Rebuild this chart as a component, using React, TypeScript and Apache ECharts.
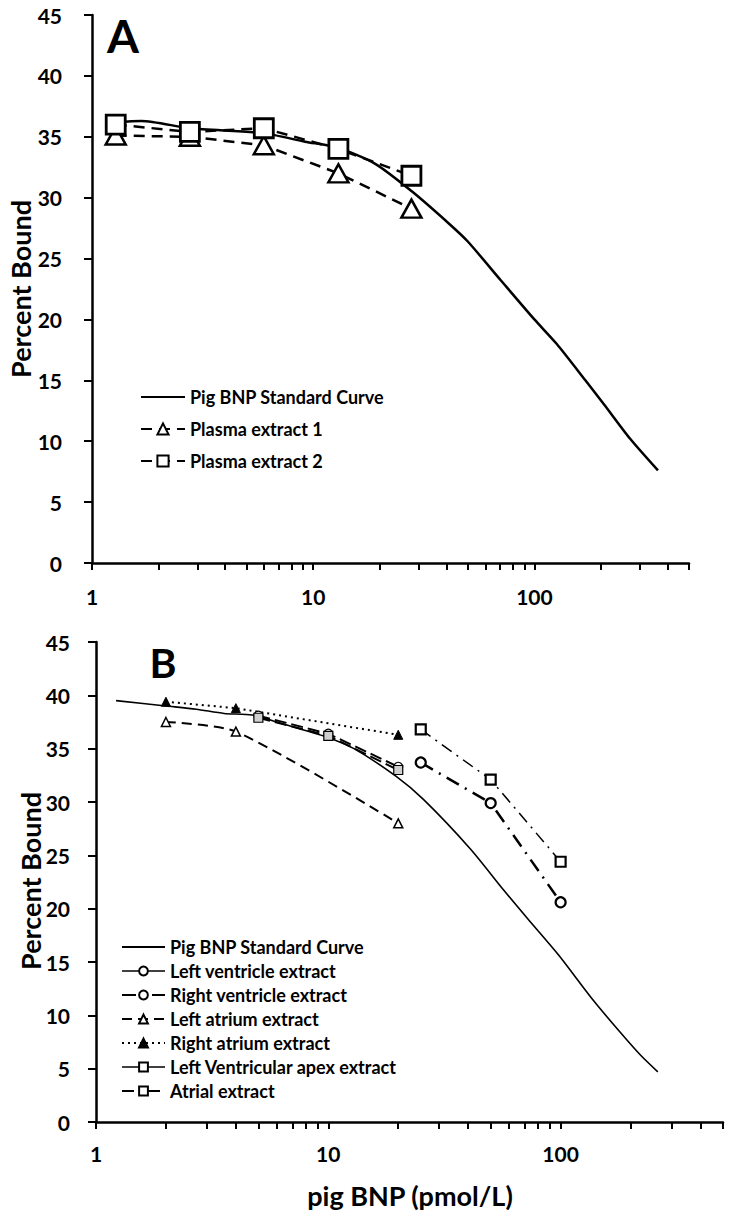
import React, { useEffect, useRef } from "react";
import * as echarts from "echarts";

const FONT = 'Lato, "Noto Sans", sans-serif';

// ---------- axes ----------
const xTickValues = [1, 2, 3, 4, 5, 6, 7, 8, 9, 10, 20, 30, 40, 50, 60, 70, 80, 90, 100, 200, 300, 400, 500];
const xLabelValues = [1, 10, 100];

// ---------- panel A ----------
const stdAX = [1.28, 1.67, 2.78, 5.9, 9.2, 12.9, 19, 28, 41.5, 50, 70.6, 100, 126, 170, 207, 271, 362];
const stdAY = [36.2, 36.3, 35.7, 35.3, 34.6, 34.1, 32.8, 30.5, 27.8, 26.4, 23.2, 20.0, 18.0, 15.0, 13.0, 10.2, 7.6];
const plasmaX = [1.28, 2.77, 5.98, 13.0, 27.8];
const plasma1Y = [35.1, 35.0, 34.3, 32.0, 29.1];
const plasma2Y = [36.0, 35.4, 35.7, 34.0, 31.8];

// ---------- panel B ----------
const stdBX = [1.22, 2.0, 2.7, 3.56, 4.7, 6.2, 9.8, 12.9, 19.6, 25.8, 40.9, 56.6, 74.5, 98.4, 136, 179, 220, 262];
const stdBY = [39.5, 39.0, 38.7, 38.3, 38.15, 37.4, 36.1, 35.0, 32.4, 30.2, 25.6, 21.8, 18.7, 15.6, 11.6, 8.5, 6.3, 4.7];
const lvX = [5, 10, 20];
const lvY = [38.1, 36.4, 33.3];
const lvApexX = [5, 10, 20];
const lvApexY = [37.9, 36.2, 33.0];
const rvX = [25, 50, 100];
const rvY = [33.7, 29.9, 20.6];
const laX = [2, 4, 20];
const laY = [37.5, 36.6, 28.0];
const raX = [2, 4, 20];
const raY = [39.4, 38.8, 36.3];
const atrialX = [25, 50, 100];
const atrialY = [36.8, 32.1, 24.4];

const zip = (xs: number[], ys: number[]) => xs.map((x, i) => [x, ys[i]]);

const axisLineStyle = { color: "#000", width: 2.5 };
const labelStyle = { fontSize: 21, fontWeight: "bold" as const, fontFamily: FONT, color: "#000" };

function makeXAxis(margin: number) {
  return {
    type: "log",
    logBase: 10,
    min: 1,
    max: 500,
    axisLine: { show: true, onZero: false, lineStyle: axisLineStyle },
    axisTick: { show: true, inside: false, length: 7, customValues: xTickValues, lineStyle: { color: "#000", width: 2 } },
    axisLabel: { ...labelStyle, customValues: xLabelValues, margin },
    splitLine: { show: false },
    minorTick: { show: false },
    minorSplitLine: { show: false },
  };
}

function makeYAxis(margin: number) {
  return {
    type: "value",
    min: 0,
    max: 45,
    interval: 5,
    axisLine: { show: true, lineStyle: axisLineStyle },
    axisTick: { show: true, inside: false, length: 8, lineStyle: { color: "#000", width: 2 } },
    axisLabel: { ...labelStyle, margin },
    splitLine: { show: false },
  };
}

function txt(text: string, x: number, y: number, size: number, rotation = 0) {
  return {
    type: "text",
    x,
    y,
    rotation,
    style: {
      text,
      x: 0,
      y: 0,
      fill: "#000",
      fontSize: size,
      fontWeight: "bold",
      fontFamily: FONT,
      align: "center",
      verticalAlign: "middle",
    },
  };
}

const legendText = { fontSize: 18, fontWeight: "bold" as const, fontFamily: FONT, color: "#000", lineHeight: 20 };
const hiddenItem = { color: "rgba(0,0,0,0)", borderColor: "rgba(0,0,0,0)", borderWidth: 0 };

function optionA() {
  return {
    animation: false,
    grid: { left: 92, top: 15, width: 597, height: 548 },
    xAxis: makeXAxis(23),
    yAxis: makeYAxis(30),
    legend: {
      orient: "vertical",
      left: 140,
      top: 387,
      padding: 0,
      itemWidth: 44,
      itemHeight: 14,
      itemGap: 12,
      selectedMode: false,
      textStyle: legendText,
      data: ["Pig BNP Standard Curve", "Plasma extract 1", "Plasma extract 2"],
    },
    series: [
      {
        name: "Pig BNP Standard Curve",
        type: "line",
        data: zip(stdAX, stdAY),
        symbol: "none",
        smooth: 0.25,
        lineStyle: { color: "#000", width: 2.5 },
        itemStyle: hiddenItem,
        z: 2,
      },
      {
        name: "Plasma extract 1",
        type: "line",
        data: zip(plasmaX, plasma1Y),
        symbol: "triangle",
        symbolSize: [20, 18],
        lineStyle: { color: "#000", width: 2.5, type: [11, 7] },
        itemStyle: { color: "#fff", borderColor: "#000", borderWidth: 2.5 },
        z: 3,
      },
      {
        name: "Plasma extract 2",
        type: "line",
        data: zip(plasmaX, plasma2Y),
        symbol: "rect",
        symbolSize: 19,
        lineStyle: { color: "#000", width: 2.5, type: [11, 7] },
        itemStyle: { color: "#fff", borderColor: "#000", borderWidth: 2.8 },
        z: 4,
      },
    ],
    graphic: [
      txt("A", 123, 35, 46),
      txt("Percent Bound", 20, 289, 27, Math.PI / 2),
    ],
  };
}

function optionB() {
  const names = [
    "Pig BNP Standard Curve",
    "Left ventricle extract",
    "Right ventricle extract",
    "Left atrium extract",
    "Right atrium extract",
    "Left Ventricular apex extract",
    "Atrial extract",
  ];
  return {
    animation: false,
    grid: { left: 96, top: 32, width: 627, height: 480 },
    xAxis: makeXAxis(21),
    yAxis: makeYAxis(26),
    legend: {
      orient: "vertical",
      left: 121,
      top: 327,
      padding: 0,
      itemWidth: 43,
      itemHeight: 11,
      itemGap: 4,
      selectedMode: false,
      textStyle: legendText,
      data: [
        names[0],
        { name: names[1], lineStyle: { type: "solid", width: 1.5 } },
        names[2],
        names[3],
        names[4],
        { name: names[5], lineStyle: { type: "solid", width: 1.5 }, itemStyle: { color: "#fff" } },
        names[6],
      ],
    },
    series: [
      {
        name: names[0],
        type: "line",
        data: zip(stdBX, stdBY),
        symbol: "none",
        smooth: 0.25,
        lineStyle: { color: "#000", width: 1.6 },
        itemStyle: hiddenItem,
        z: 2,
      },
      {
        name: names[1],
        type: "line",
        data: zip(lvX, lvY),
        symbol: "circle",
        symbolSize: 9,
        lineStyle: { color: "#000", width: 2, type: [12, 5] },
        itemStyle: { color: "#fff", borderColor: "#000", borderWidth: 1.2 },
        z: 3,
      },
      {
        name: names[2],
        type: "line",
        data: zip(rvX, rvY),
        symbol: "circle",
        symbolSize: 10,
        lineStyle: { color: "#000", width: 2.5, type: [14, 7, 2, 7] },
        itemStyle: { color: "#fff", borderColor: "#000", borderWidth: 2.2 },
        z: 3,
      },
      {
        name: names[3],
        type: "line",
        data: zip(laX, laY),
        symbol: "triangle",
        symbolSize: 9,
        smooth: 0.25,
        lineStyle: { color: "#000", width: 2, type: [10, 6] },
        itemStyle: { color: "#fff", borderColor: "#000", borderWidth: 1.5 },
        z: 3,
      },
      {
        name: names[4],
        type: "line",
        data: zip(raX, raY),
        symbol: "triangle",
        symbolSize: 9,
        lineStyle: { color: "#000", width: 2, type: [2, 4] },
        itemStyle: { color: "#000", borderColor: "#000", borderWidth: 1 },
        z: 3,
      },
      {
        name: names[5],
        type: "line",
        data: zip(lvApexX, lvApexY),
        symbol: "rect",
        symbolSize: 9,
        lineStyle: { color: "#000", width: 2, type: [12, 5] },
        itemStyle: { color: "#d0d0d0", borderColor: "#000", borderWidth: 1.2 },
        z: 4,
      },
      {
        name: names[6],
        type: "line",
        data: zip(atrialX, atrialY),
        symbol: "rect",
        symbolSize: 10,
        lineStyle: { color: "#000", width: 1.5, type: [12, 6, 2, 6] },
        itemStyle: { color: "#fff", borderColor: "#000", borderWidth: 2.2 },
        z: 4,
      },
    ],
    graphic: [
      txt("B", 163, 52, 41),
      txt("Percent Bound", 30, 271, 27, Math.PI / 2),
      txt("pig BNP (pmol/L)", 410, 585, 27),
    ],
  };
}

export default function App() {
  const refA = useRef<HTMLDivElement>(null);
  const refB = useRef<HTMLDivElement>(null);

  useEffect(() => {
    const a = echarts.init(refA.current!, undefined, { renderer: "svg" });
    const b = echarts.init(refB.current!, undefined, { renderer: "svg" });
    a.setOption(optionA() as any);
    b.setOption(optionB() as any);
    return () => {
      a.dispose();
      b.dispose();
    };
  }, []);

  return (
    <div style={{ position: "absolute", left: 0, top: 0, width: 732, height: 1217, background: "#fff" }}>
      <div ref={refA} style={{ position: "absolute", left: 0, top: 0, width: 732, height: 610 }} />
      <div ref={refB} style={{ position: "absolute", left: 0, top: 610, width: 732, height: 607 }} />
    </div>
  );
}
